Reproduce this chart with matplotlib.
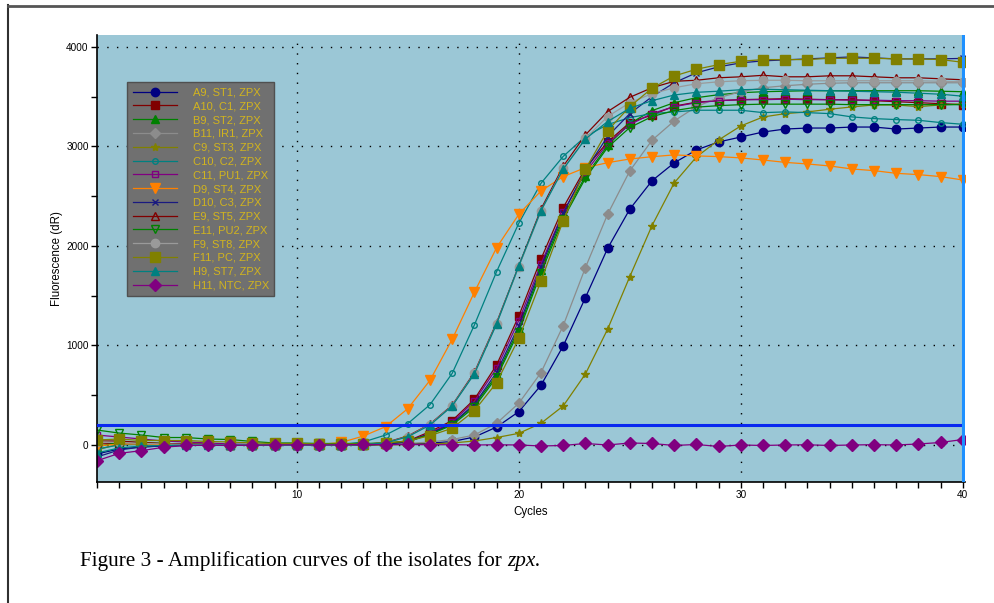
import matplotlib
matplotlib.use("Agg")
import matplotlib.pyplot as plt
from matplotlib.lines import Line2D
from matplotlib.ticker import MultipleLocator

plt.rcParams["font.family"] = ["Liberation Sans", "DejaVu Sans"]

cycles = list(range(1, 41))

# fluorescence (dR) per cycle
a9 = [-90, -40, -20, -10, -5, 0, 0, 0, 0, 0, 0, 0, 2, 5, 10, 18, 35, 80, 180, 335,
      600, 995, 1480, 1975, 2370, 2655, 2835, 2965, 3045, 3095, 3145, 3175, 3185, 3185, 3195, 3195,
      3175, 3185, 3195, 3195]
a10 = [10, 20, 15, 10, 8, 5, 3, 0, 0, 0, 0, 0, 0, 10, 40, 134, 245, 459, 804, 1296,
       1869, 2385, 2780, 3045, 3240, 3316, 3405, 3445, 3460, 3470, 3475, 3480, 3475, 3470, 3470, 3460,
       3450, 3440, 3430, 3420]
b9 = [-20, 30, 25, 15, 10, 5, 0, 0, 0, 0, 0, 0, 0, 8, 30, 110, 210, 400, 700, 1170,
      1760, 2300, 2700, 3010, 3230, 3360, 3440, 3490, 3520, 3540, 3550, 3555, 3560, 3560, 3560, 3560,
      3560, 3560, 3555, 3550]
b11 = [20, 30, 20, 12, 8, 5, 3, 0, 0, 0, 0, 0, 0, 5, 15, 30, 55, 100, 218, 419,
       727, 1199, 1782, 2318, 2754, 3062, 3256, 3400, 3490, 3550, 3590, 3610, 3625, 3635, 3640, 3640,
       3640, 3640, 3640, 3640]
c9 = [-50, 10, 5, 3, 0, 0, 0, 0, 0, 0, 0, 0, 0, 0, 5, 10, 20, 40, 75, 117,
      218, 392, 713, 1163, 1692, 2204, 2633, 2894, 3065, 3206, 3296, 3330, 3347, 3374, 3397, 3417,
      3417, 3400, 3417, 3427]
c10 = [-40, 0, 5, 3, 0, 0, 0, 0, 0, 0, 0, 5, 30, 100, 215, 405, 720, 1206, 1742, 2228,
       2630, 2900, 3100, 3220, 3290, 3330, 3347, 3364, 3364, 3364, 3340, 3347, 3340, 3330, 3297, 3280,
       3270, 3263, 3240, 3223]
c11 = [100, 80, 60, 40, 30, 20, 10, 5, 0, 0, 0, 0, 0, 10, 35, 120, 230, 440, 770, 1250,
       1820, 2340, 2740, 3030, 3220, 3330, 3400, 3440, 3460, 3470, 3470, 3475, 3470, 3470, 3465, 3465,
       3460, 3460, 3455, 3455]
d9 = [-10, 10, 10, 5, 3, 0, 0, 0, 0, 0, 5, 25, 90, 184, 365, 650, 1062, 1535, 1983, 2318,
      2553, 2697, 2787, 2837, 2874, 2897, 2915, 2905, 2898, 2885, 2864, 2840, 2824, 2804, 2774, 2757,
      2730, 2717, 2697, 2663]
d10 = [-120, -50, -20, -8, -3, 0, 0, 0, 0, 0, 0, 0, 0, 8, 30, 115, 215, 410, 730, 1200,
       1790, 2330, 2760, 3100, 3330, 3500, 3640, 3740, 3800, 3840, 3860, 3870, 3880, 3890, 3900, 3890,
       3880, 3880, 3880, 3885]
e9 = [40, 40, 25, 15, 10, 5, 0, 0, 0, 0, 0, 0, 5, 25, 90, 210, 400, 730, 1230, 1800,
      2370, 2800, 3116, 3350, 3494, 3590, 3655, 3665, 3690, 3700, 3715, 3700, 3700, 3710, 3710, 3700,
      3690, 3690, 3680, 3670]
e11 = [150, 120, 100, 75, 75, 60, 55, 35, 20, 20, 15, 15, 15, 20, 40, 105, 200, 380, 680, 1140,
       1730, 2270, 2680, 2990, 3190, 3300, 3360, 3395, 3410, 3420, 3425, 3425, 3425, 3425, 3420, 3420,
       3420, 3420, 3420, 3420]
f9 = [30, 25, 15, 10, 5, 3, 0, 0, 0, 0, 0, 0, 5, 20, 85, 205, 395, 720, 1220, 1790,
      2350, 2780, 3080, 3300, 3440, 3530, 3590, 3630, 3650, 3660, 3665, 3665, 3660, 3660, 3660, 3660,
      3660, 3660, 3655, 3650]
f11 = [50, 60, 45, 45, 45, 35, 30, 20, 15, 15, 10, 10, 10, 20, 40, 94, 168, 345, 626, 1072,
       1648, 2254, 2771, 3159, 3400, 3585, 3708, 3776, 3822, 3856, 3873, 3873, 3873, 3886, 3886, 3886,
       3880, 3880, 3873, 3846]
h9 = [-80, -30, -10, -5, 0, 0, 0, 0, 0, 0, 0, 0, 5, 20, 83, 200, 392, 715, 1216, 1799,
      2355, 2771, 3075, 3250, 3384, 3460, 3517, 3544, 3555, 3570, 3575, 3570, 3565, 3560, 3555, 3550,
      3545, 3535, 3525, 3505]
h11 = [-158, -84, -57, -23, -5, -3, -5, -2, 0, 2, 0, 2, 5, 3, 5, 2, 3, 0, 2, 0,
       -10, -5, 15, 0, 20, 15, -5, 5, -15, 0, -5, 0, 2, -5, 0, 3, 0, 10, 25, 55]

threshold = 200

labels = ["A9, ST1, ZPX", "A10, C1, ZPX", "B9, ST2, ZPX", "B11, IR1, ZPX", "C9, ST3, ZPX",
          "C10, C2, ZPX", "C11, PU1, ZPX", "D9, ST4, ZPX", "D10, C3, ZPX", "E9, ST5, ZPX",
          "E11, PU2, ZPX", "F9, ST8, ZPX", "F11, PC, ZPX", "H9, ST7, ZPX", "H11, NTC, ZPX"]
series = [a9, a10, b9, b11, c9, c10, c11, d9, d10, e9, e11, f9, f11, h9, h11]

# colour, marker, marker size, filled
styles = [
    ("#000080", "o", 6, True),
    ("#800000", "s", 5.5, True),
    ("#008000", "^", 6, True),
    ("#8c8c8c", "D", 5, True),
    ("#808000", "*", 6, True),
    ("#008080", "o", 4, False),
    ("#800080", "s", 5, False),
    ("#ff8000", "v", 6.5, True),
    ("#1a1a80", "x", 5, True),
    ("#800000", "^", 6, False),
    ("#008000", "v", 6, False),
    ("#9a9a9a", "o", 6, True),
    ("#808000", "s", 6.5, True),
    ("#008080", "^", 6, True),
    ("#800080", "D", 6, True),
]

fig = plt.figure(figsize=(9.95, 6.03), dpi=100)
ax = fig.add_axes([97 / 995, 1 - 482 / 603, (965 - 97) / 995, (482 - 35) / 603])
ax.set_facecolor("#9bc7d6")

for vals, lab, (col, mk, ms, filled) in zip(series, labels, styles):
    ax.plot(cycles, vals, color=col, lw=0.9, marker=mk, ms=ms,
            mfc=col if filled else "none", mec=col, mew=1.0, label=lab)

ax.axhline(threshold, color="#0a28f0", lw=2.2, zorder=5)
ax.axvline(40, color="#1e90ff", lw=2.2, zorder=5)

ax.set_xlim(1, 40.1)
ax.set_ylim(-372, 4120)
ax.xaxis.set_major_locator(MultipleLocator(10))
ax.xaxis.set_minor_locator(MultipleLocator(1))
ax.yaxis.set_major_locator(MultipleLocator(1000))
ax.yaxis.set_minor_locator(MultipleLocator(500))
ax.tick_params(which="both", direction="out", length=4, width=1, labelsize=7.2, pad=2)
ax.grid(which="major", color="black", linestyle=(0, (1, 6)), lw=1)
for s in ("top", "right"):
    ax.spines[s].set_visible(False)
ax.spines["left"].set_linewidth(1.2)
ax.spines["bottom"].set_linewidth(1.2)

ax.set_xlabel("Cycles", fontsize=8.3, labelpad=4)
ax.set_ylabel("Fluorescence (dR)", fontsize=8.3, labelpad=2)

leg = ax.legend(loc="upper left", bbox_to_anchor=(127 / 995, 1 - 82 / 603),
                bbox_transform=fig.transFigure, borderaxespad=0, fontsize=8.0,
                handlelength=4.0, handletextpad=1.4, labelspacing=0.34, borderpad=0.5,
                frameon=True, fancybox=False, framealpha=1)
leg.get_frame().set_facecolor("#707070")
leg.get_frame().set_edgecolor("#505050")
for t in leg.get_texts():
    t.set_color("#d2b41e")

# page border of the scanned figure
fig.add_artist(Line2D([8 / 995, 8 / 995], [0, 1 - 5 / 603], transform=fig.transFigure,
                      color="#303030", lw=1.5))
fig.add_artist(Line2D([8 / 995, 1], [1 - 5.5 / 603, 1 - 5.5 / 603], transform=fig.transFigure,
                      color="#555555", lw=2))

cap = fig.text(80 / 995, 1 - 566 / 603, "Figure 3 - Amplification curves of the isolates for ",
               fontsize=15.3, family="Liberation Serif", va="baseline")
fig.canvas.draw()
bb = cap.get_window_extent(fig.canvas.get_renderer())
fig.text(bb.x1 / fig.bbox.width, 1 - 566 / 603, "zpx.", fontsize=15.3,
         family="Liberation Serif", style="italic", va="baseline")

fig.savefig("out.png", dpi=100)
